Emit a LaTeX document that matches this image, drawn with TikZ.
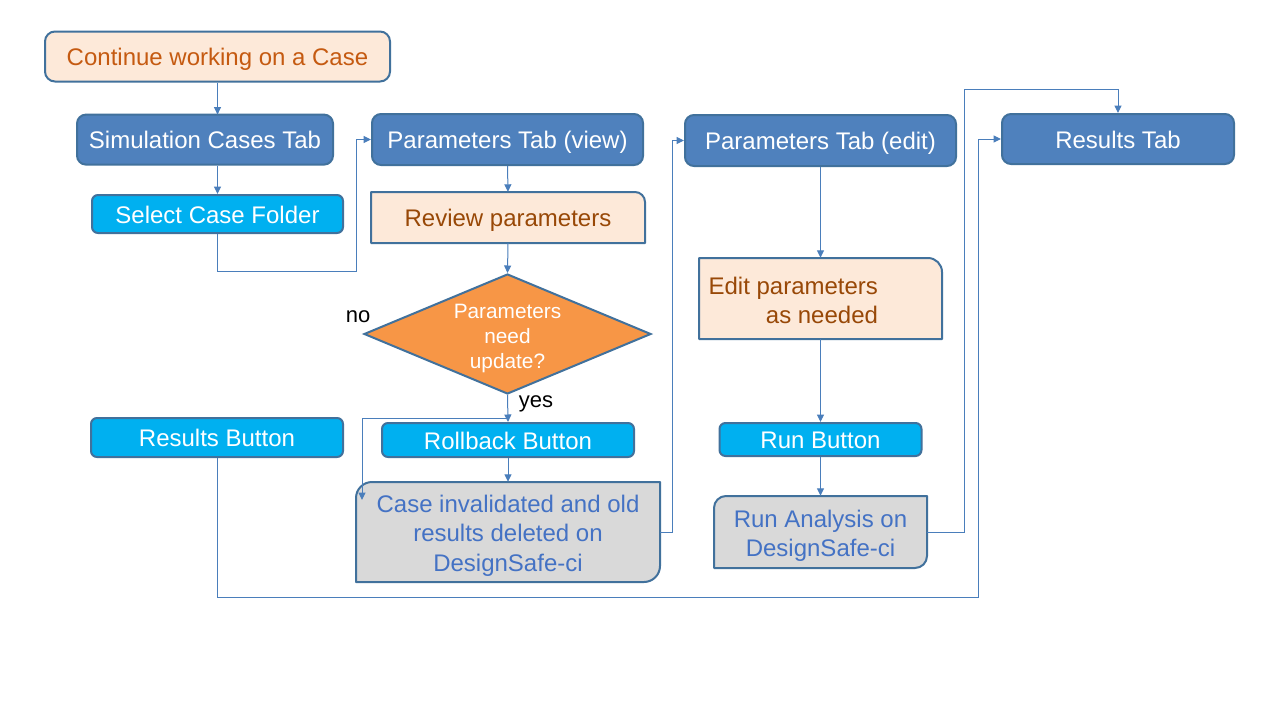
\documentclass[tikz,border=0pt]{standalone}
\usepackage{fontspec}
\setmainfont{Liberation Sans}
\usetikzlibrary{shapes.geometric,arrows.meta}
\definecolor{tabblue}{HTML}{4F81BD}
\definecolor{edgec}{HTML}{41719C}
\definecolor{cyanb}{HTML}{00B0F0}
\definecolor{peach}{HTML}{FDE9D9}
\definecolor{graybox}{HTML}{D9D9D9}
\definecolor{orangeD}{HTML}{F79646}
\definecolor{linec}{HTML}{4A7EBB}
\definecolor{txtorange}{HTML}{C55A11}
\definecolor{txtbrown}{HTML}{984807}
\definecolor{txtblue}{HTML}{4472C4}
\begin{document}
\begin{tikzpicture}[x=1pt,y=-1pt,
 base/.style={draw=edgec, line width=2pt, inner sep=0pt, font=\fontsize{24}{29.5}\selectfont, align=center, text height=18pt, text depth=0pt},
 tabbox/.style={base, fill=tabblue, text=white, rounded corners=9pt},
 btnbox/.style={base, fill=cyanb, text=white, rounded corners=6pt},
 peachbox/.style={base, fill=peach},
 shapebox/.style={draw=none, inner sep=0pt},
 multi/.style={font=\fontsize{24}{29.5}\selectfont, align=center, inner sep=0pt},
 shapeline/.style={draw=edgec, line width=2pt, line join=round},
 conn/.style={draw=linec, line width=1pt, -{Triangle[length=7.5pt,width=7pt]}},
 lbl/.style={font=\fontsize{22}{26}\selectfont, text=black, inner sep=0pt}]
\fill[white] (0,0) rectangle (1280,720);
\useasboundingbox (0,0) rectangle (1280,720);

% column 1
\node[peachbox, rounded corners=10pt, text=txtorange, minimum width=345, minimum height=50] (cont) at (217.5,56.5) {Continue working on a Case};
\node[tabbox, minimum width=256, minimum height=50] (sim) at (205,139.6) {Simulation Cases Tab};
\node[btnbox, minimum width=251, minimum height=38] (sel) at (217.5,214) {Select Case Folder};
\node[btnbox, minimum width=252, minimum height=39] (rbtn) at (217,437.5) {Results Button};

% column 2
\node[tabbox, minimum width=271, minimum height=51] (pview) at (507.5,139.5) {Parameters Tab (view)};
\fill[peach] (371,243) -- (371,192) -- (635,192) .. controls (640.5,192) and (645,196.5) .. (645,202) -- (645,243) -- cycle;
\draw[shapeline] (371,243) -- (371,192) -- (635,192) .. controls (640.5,192) and (645,196.5) .. (645,202) -- (645,243) -- cycle;
\node[shapebox, font=\fontsize{24}{29.5}\selectfont, text height=18pt, text depth=0pt, text=txtbrown, minimum width=274, minimum height=51] (rev) at (508,217.5) {Review parameters};
\node[diamond, draw=edgec, line width=2pt, fill=orangeD, inner sep=0pt, minimum width=287, minimum height=120,
  label={[text=white, font=\fontsize{20.8}{25}\selectfont, align=center, yshift=-4pt]center:Parameters\\need\\update?}] (dia) at (507.5,334) {};
\node[lbl] (nolbl) at (358,316.5) {no};
\node[lbl] (yeslbl) at (536,404) {yes};
\node[btnbox, minimum width=252, minimum height=34] (rbk) at (508,440) {Rollback Button};
\fill[graybox] (356,582) -- (356,498) .. controls (356,489.2) and (363.2,482) .. (372,482) -- (660,482) -- (660,566) .. controls (660,574.8) and (652.8,582) .. (644,582) -- cycle;
\draw[shapeline] (356,582) -- (356,498) .. controls (356,489.2) and (363.2,482) .. (372,482) -- (660,482) -- (660,566) .. controls (660,574.8) and (652.8,582) .. (644,582) -- cycle;
\node[shapebox, minimum width=304, minimum height=100,
  label={[multi, text=txtblue, yshift=-3.5pt]center:Case invalidated and old\\results deleted on\\DesignSafe-ci}] (case) at (508,532) {};

% column 3
\node[tabbox, minimum width=271, minimum height=51] (pedit) at (820.5,140.5) {Parameters Tab (edit)};
\fill[peach] (699,258) -- (928,258) .. controls (935.7,258) and (942,264.3) .. (942,272) -- (942,339) -- (699,339) -- cycle;
\draw[shapeline] (699,258) -- (928,258) .. controls (935.7,258) and (942,264.3) .. (942,272) -- (942,339) -- (699,339) -- cycle;
\node[shapebox, minimum width=243, minimum height=81,
  label={[multi, text=txtbrown, align=right, anchor=east, xshift=-64pt, yshift=-2pt]east:Edit parameters\\as needed}] (edit) at (820.5,298.5) {};
\node[btnbox, minimum width=202, minimum height=33] (runb) at (820.5,439.5) {Run Button};
\fill[graybox] (714,568) -- (714,508) .. controls (714,501.4) and (719.4,496) .. (726,496) -- (927,496) -- (927,556) .. controls (927,562.6) and (921.6,568) .. (915,568) -- cycle;
\draw[shapeline] (714,568) -- (714,508) .. controls (714,501.4) and (719.4,496) .. (726,496) -- (927,496) -- (927,556) .. controls (927,562.6) and (921.6,568) .. (915,568) -- cycle;
\node[shapebox, minimum width=213, minimum height=72,
  label={[multi, text=txtblue, yshift=-4pt]center:Run Analysis on\\DesignSafe-ci}] (runan) at (820.5,532) {};

% column 4
\node[tabbox, minimum width=232, minimum height=50] (rtab) at (1118,139) {Results Tab};

% connectors
\coordinate (contdrop) at (217.5,114.6);
\draw[conn] (cont.south) -- (contdrop);
\draw[conn] (sim.south -| sel.north) -- (sel.north);
\draw[conn] (sel.south) -- ++(0,37) -| ([xshift=-15pt]pview.west) -- (pview.west);
\draw[conn] (pview.south) -- (rev.north);
\draw[conn] (rev.south) -- (dia.north);
\draw[conn] (dia.south) -- (rbk.north);
\coordinate (nj) at (508,418);
\coordinate (nend) at (362,500);
\draw[conn] (nj) -| (nend);
\draw[conn] (rbk.south) -- (case.north);
\draw[conn] (case.east) -- ++(12,0) |- (pedit.west);
\draw[conn] (pedit.south) -- (edit.north);
\draw[conn] (edit.south) -- (runb.north);
\draw[conn] (runb.south) -- (runan.north);
\draw[conn] (runan.east) -- ++(37,0) |- ([yshift=24pt]rtab.north) -- (rtab.north);
\draw[conn] (rbtn.south) -- ++(0,139) -| ([xshift=-23pt]rtab.west) -- (rtab.west);
\end{tikzpicture}
\end{document}
